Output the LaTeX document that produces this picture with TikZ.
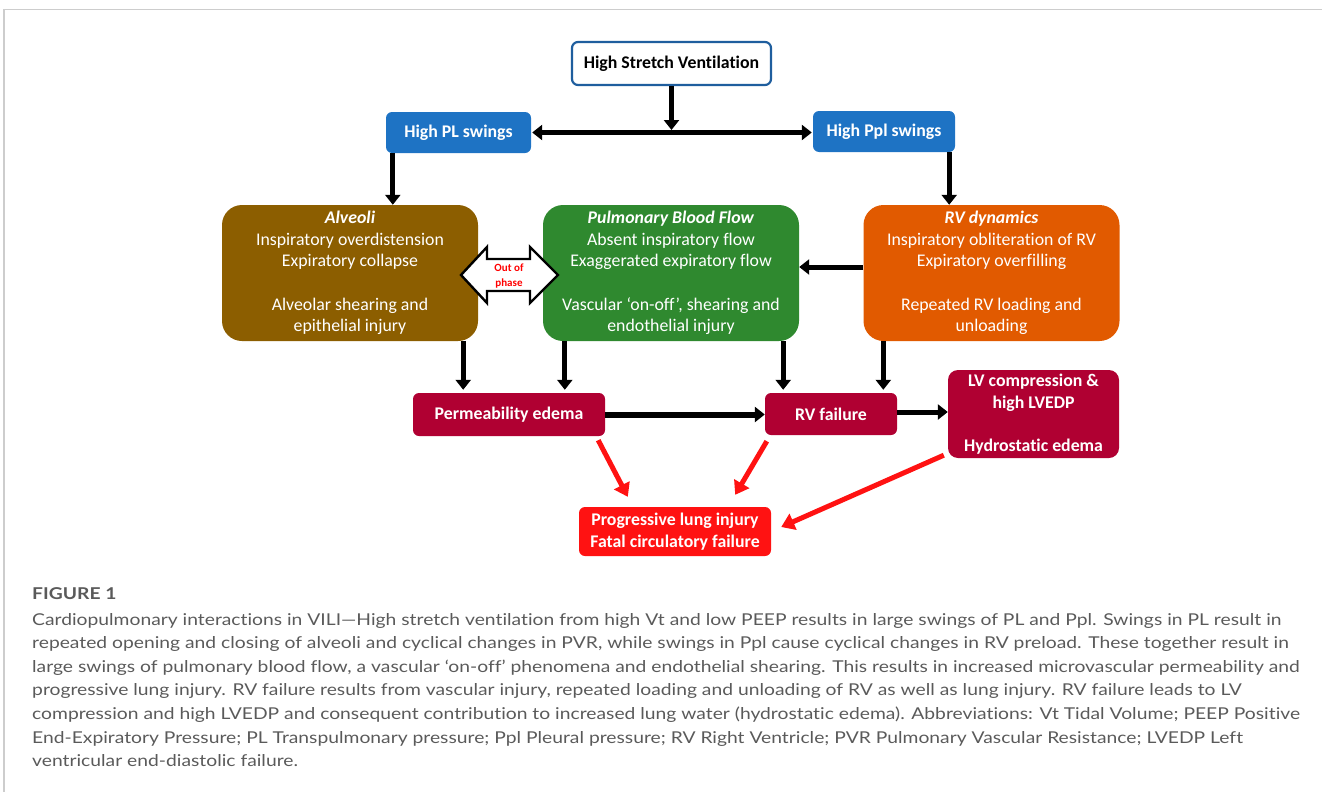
\documentclass[tikz,border=0pt]{standalone}
\usepackage{fontspec}
\setmainfont[Ligatures=NoCommon]{Carlito}
\newfontfamily\capfont[FakeStretch=1.182,Ligatures=NoCommon]{Lato}
\usetikzlibrary{arrows.meta,calc}
\definecolor{topblue}{RGB}{31,94,158}
\definecolor{boxblue}{RGB}{30,115,196}
\definecolor{alvbrown}{RGB}{140,94,0}
\definecolor{pbfgreen}{RGB}{47,137,47}
\definecolor{rvorange}{RGB}{225,90,0}
\definecolor{crimson}{RGB}{176,0,50}
\definecolor{brightred}{RGB}{255,18,18}
\definecolor{capgray}{RGB}{90,90,90}
\definecolor{framegray}{RGB}{205,205,205}
\begin{document}
\begin{tikzpicture}[x=1pt,y=-1pt,
  txt/.style={font=\fontsize{17.8}{21.6}\selectfont, align=center, inner sep=0pt},
  topbox/.style={txt, draw=topblue, line width=2.2pt, fill=white, rounded corners=6pt, font=\fontsize{17.8}{21.6}\selectfont\bfseries},
  bluebox/.style={txt, fill=boxblue, text=white, rounded corners=6pt, font=\fontsize{17.8}{21.6}\selectfont\bfseries},
  bigbox/.style={txt, text=white, rounded corners=20pt, minimum width=256pt, minimum height=136pt},
  redbox/.style={txt, fill=crimson, text=white, rounded corners=6pt, font=\fontsize{17.8}{21.6}\selectfont\bfseries},
  blk/.style={line width=5pt, -{Triangle[width=15pt,length=10pt]}, shorten >=2pt},
  redarr/.style={draw=brightred, line width=5pt, -{Triangle[width=17pt,length=13pt]}, brightred},
  capline/.style={anchor=base west, inner sep=0pt, text=capgray, font=\capfont\fontsize{16.3}{20}\selectfont}
]
\useasboundingbox (0,0) rectangle (1322,792);
\draw[framegray, line width=1.2pt] (4,792) -- (4,9.5) -- (1322,9.5);

% nodes
\node[topbox, minimum width=199pt, minimum height=43pt] (hsv) at (671.5,63.5) {High Stretch Ventilation};
\node[bluebox, minimum width=145pt, minimum height=41pt] (hpl) at (458.5,132.5) {High PL swings};
\node[bluebox, minimum width=142pt, minimum height=41pt] (hppl) at (884,131.5) {High Ppl swings};

\node[bigbox, fill=alvbrown] (alv) at (350,273) {\textbf{\textit{Alveoli}}\\Inspiratory overdistension\\Expiratory collapse\\[21.6pt]Alveolar shearing and\\epithelial injury};
\node[bigbox, fill=pbfgreen] (pbf) at (671,273) {\textbf{\textit{Pulmonary Blood Flow}}\\Absent inspiratory flow\\Exaggerated expiratory flow\\[21.6pt]Vascular ‘on-off’, shearing and\\endothelial injury};
\node[bigbox, fill=rvorange] (rvd) at (991.5,273) {\textbf{\textit{RV dynamics}}\\Inspiratory obliteration of RV\\Expiratory overfilling\\[21.6pt]Repeated RV loading and\\unloading};

\node[redbox, minimum width=192pt, minimum height=43pt] (perm) at (509,414.5) {Permeability edema};
\node[redbox, minimum width=132pt, minimum height=42pt] (rvf) at (831,414) {RV failure};
\node[redbox, minimum width=171pt, minimum height=88pt, rounded corners=10pt] (lv) at (1033.5,414) {LV compression \&\\high LVEDP\\[21.6pt]Hydrostatic edema};
\node[redbox, fill=brightred, minimum width=192pt, minimum height=49pt] (prog) at (675,531.5) {Progressive lung injury\\Fatal circulatory failure};

% out of phase hollow double arrow
\draw[line width=2.4pt, fill=white, line join=miter]
  (461,275) -- (487,247) -- (487,259) -- (530,259) -- (530,247) -- (558,275)
  -- (530,303) -- (530,291) -- (487,291) -- (487,303) -- cycle;
\node[inner sep=0pt, align=center, text=red, font=\fontsize{11}{15.5}\selectfont\bfseries] (oop) at (509,276) {Out of\\phase};

% black connectors
\draw[blk, shorten >=2.5pt] (hsv.south) -- (hsv.south |- hpl.east);
\draw[line width=5pt, {Triangle[width=15pt,length=10pt]}-{Triangle[width=15pt,length=10pt]}, shorten <=1pt, shorten >=1pt] (hpl.east) -- (hpl.east -| hppl.west);
\coordinate (c1) at ($(hpl.south west)+(7,0)$);
\draw[blk, shorten >=0pt] (c1) -- (c1 |- alv.north);
\coordinate (c2) at ($(hppl.south east)+(-6,0)$);
\draw[blk, shorten >=0pt] (c2) -- (c2 |- rvd.north);
\coordinate (c3) at ($(rvd.west)+(0,-6)$);
\draw[blk, shorten >=0pt] (c3) -- (c3 -| pbf.east);

\coordinate (d1) at ($(alv.south east)+(-15,0)$);
\draw[blk, shorten >=3pt] (d1) -- (d1 |- perm.north);
\coordinate (d2) at ($(pbf.south west)+(22,0)$);
\draw[blk, shorten >=3pt] (d2) -- (d2 |- perm.north);
\coordinate (d3) at ($(pbf.south east)+(-16,0)$);
\draw[blk, shorten >=3pt] (d3) -- (d3 |- rvf.north);
\coordinate (d4) at ($(rvd.south west)+(20,0)$);
\draw[blk, shorten >=3pt] (d4) -- (d4 |- rvf.north);

\draw[blk, line width=6pt, shorten >=0pt] (perm.east) -- (perm.east -| rvf.west);
\coordinate (e1) at ($(rvf.east)+(0,-2)$);
\draw[blk, shorten >=0pt] (e1) -- (e1 -| lv.west);

% red connectors
\draw[redarr] ($(perm.south east)+(-7,4)$) -- ($(prog.north west)+(49,-10)$);
\draw[redarr] ($(rvf.south west)+(2,6)$) -- ($(prog.north east)+(-36,-12)$);
\draw[redarr] ($(lv.south west)+(-4,-3)$) -- ($(prog.east)+(10,-4.5)$);

% caption
\node[capline, font=\capfont\bfseries\fontsize{16.3}{20}\selectfont] (fig) at (32,599) {FIGURE 1};
\node[capline] (cap1) at (32,625) {Cardiopulmonary interactions in VILI—High stretch ventilation from high Vt and low PEEP results in large swings of PL and Ppl. Swings in PL result in};
\node[capline] (cap2) at (32,648.6) {repeated opening and closing of alveoli and cyclical changes in PVR, while swings in Ppl cause cyclical changes in RV preload. These together result in};
\node[capline] (cap3) at (32,672.2) {large swings of pulmonary blood flow, a vascular ‘on-off’ phenomena and endothelial shearing. This results in increased microvascular permeability and};
\node[capline] (cap4) at (32,695.8) {progressive lung injury. RV failure results from vascular injury, repeated loading and unloading of RV as well as lung injury. RV failure leads to LV};
\node[capline] (cap5) at (32,719.4) {compression and high LVEDP and consequent contribution to increased lung water (hydrostatic edema). Abbreviations: Vt Tidal Volume; PEEP Positive};
\node[capline] (cap6) at (32,743) {End-Expiratory Pressure; PL Transpulmonary pressure; Ppl Pleural pressure; RV Right Ventricle; PVR Pulmonary Vascular Resistance; LVEDP Left};
\node[capline] (cap7) at (32,766.6) {ventricular end-diastolic failure.};
\end{tikzpicture}
\end{document}
